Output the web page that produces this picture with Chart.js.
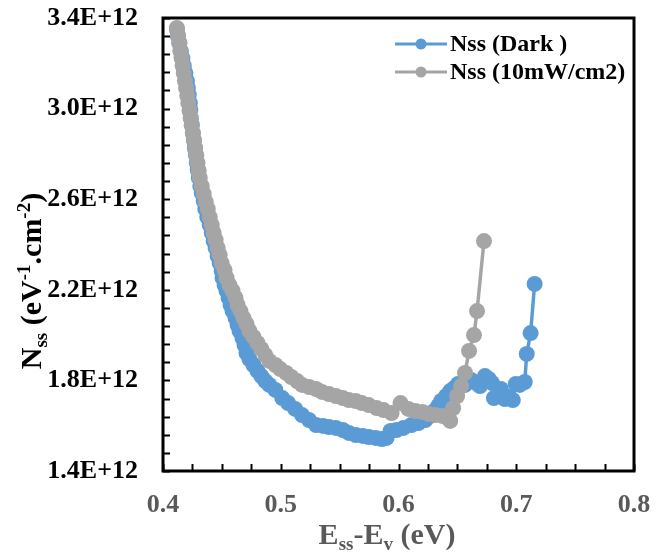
<!DOCTYPE html>
<html>
<head>
<meta charset="utf-8">
<script src="https://cdn.jsdelivr.net/npm/chart.js@4.4.1/dist/chart.umd.min.js"></script>
<style>
  html, body { margin: 0; padding: 0; background: #fff; }
  canvas { display: block; }
</style>
</head>
<body>
<canvas id="nssChart" width="667" height="557"></canvas>
<script>
// Ess-Ev (eV) and Nss (in units of 1E+12 eV-1.cm-2)
const darkX = [0.4118, 0.4127, 0.4139, 0.4152, 0.4165, 0.4177, 0.4190, 0.4203, 0.4211, 0.4219,
  0.4228, 0.4232, 0.4236, 0.4245, 0.4253, 0.4262, 0.4270, 0.4279, 0.4287, 0.4295,
  0.4304, 0.4317, 0.4329, 0.4346, 0.4359, 0.4376, 0.4397, 0.4414, 0.4430, 0.4447,
  0.4464, 0.4481, 0.4498, 0.4506, 0.4523, 0.4540, 0.4557, 0.4574, 0.4591, 0.4616,
  0.4633, 0.4650, 0.4675, 0.4692, 0.4709, 0.4734, 0.4768, 0.4802, 0.4835, 0.4869,
  0.4903, 0.4954, 0.5013, 0.5063, 0.5122, 0.5181, 0.5241, 0.5300, 0.5359, 0.5409,
  0.5468, 0.5527, 0.5578, 0.5637, 0.5696, 0.5747, 0.5806, 0.5857, 0.5899, 0.5933,
  0.5983, 0.6042, 0.6110, 0.6169, 0.6228, 0.6270, 0.6304, 0.6338, 0.6363, 0.6405,
  0.6439, 0.6473, 0.6506, 0.6565, 0.6616, 0.6658, 0.6692, 0.6734, 0.6768, 0.6793,
  0.6810, 0.6844, 0.6869, 0.6903, 0.6937, 0.6971, 0.6996, 0.7030, 0.7072, 0.7089,
  0.7122, 0.7156];
const darkY = [3.351, 3.321, 3.290, 3.254, 3.223, 3.188, 3.157, 3.122, 3.091, 3.060,
  3.025, 2.994, 2.958, 2.928, 2.892, 2.861, 2.826, 2.795, 2.760, 2.729,
  2.694, 2.658, 2.627, 2.592, 2.557, 2.521, 2.486, 2.451, 2.415, 2.385,
  2.349, 2.318, 2.283, 2.252, 2.221, 2.195, 2.164, 2.133, 2.106, 2.075,
  2.045, 2.018, 1.987, 1.956, 1.921, 1.894, 1.868, 1.842, 1.819, 1.797,
  1.780, 1.758, 1.722, 1.700, 1.674, 1.647, 1.625, 1.603, 1.599, 1.594,
  1.590, 1.581, 1.568, 1.559, 1.555, 1.550, 1.546, 1.541, 1.546, 1.577,
  1.581, 1.590, 1.603, 1.612, 1.625, 1.643, 1.665, 1.687, 1.709, 1.731,
  1.753, 1.766, 1.784, 1.780, 1.802, 1.789, 1.775, 1.819, 1.806, 1.789,
  1.722, 1.740, 1.762, 1.718, 1.727, 1.713, 1.784, 1.780, 1.793, 1.917,
  2.009, 2.226];

const lightX = [0.4118, 0.4128, 0.4138, 0.4147, 0.4157, 0.4167, 0.4176, 0.4186, 0.4196, 0.4206,
  0.4215, 0.4225, 0.4235, 0.4244, 0.4254, 0.4264, 0.4273, 0.4283, 0.4293, 0.4303,
  0.4312, 0.4329, 0.4346, 0.4363, 0.4380, 0.4397, 0.4414, 0.4430, 0.4447, 0.4464,
  0.4481, 0.4498, 0.4523, 0.4540, 0.4565, 0.4591, 0.4616, 0.4633, 0.4658, 0.4684,
  0.4709, 0.4734, 0.4768, 0.4802, 0.4835, 0.4869, 0.4903, 0.4954, 0.4996, 0.5046,
  0.5089, 0.5139, 0.5181, 0.5241, 0.5300, 0.5350, 0.5409, 0.5468, 0.5527, 0.5578,
  0.5637, 0.5688, 0.5747, 0.5814, 0.5873, 0.5941, 0.6017, 0.6084, 0.6143, 0.6203,
  0.6253, 0.6312, 0.6371, 0.6422, 0.6439, 0.6464, 0.6498, 0.6532, 0.6565, 0.6599,
  0.6641, 0.6667, 0.6726];
const lightY = [3.356, 3.323, 3.290, 3.257, 3.224, 3.190, 3.157, 3.124, 3.091, 3.058,
  3.025, 2.992, 2.959, 2.926, 2.893, 2.860, 2.826, 2.793, 2.760, 2.727,
  2.694, 2.658, 2.623, 2.588, 2.557, 2.521, 2.486, 2.451, 2.420, 2.385,
  2.354, 2.318, 2.287, 2.252, 2.221, 2.195, 2.164, 2.133, 2.106, 2.075,
  2.049, 2.018, 1.992, 1.965, 1.939, 1.912, 1.886, 1.868, 1.850, 1.833,
  1.815, 1.797, 1.780, 1.771, 1.762, 1.749, 1.740, 1.731, 1.722, 1.713,
  1.709, 1.700, 1.691, 1.678, 1.669, 1.656, 1.700, 1.674, 1.665, 1.661,
  1.652, 1.647, 1.643, 1.634, 1.621, 1.678, 1.731, 1.775, 1.833, 1.930,
  2.000, 2.106, 2.415];

const xTicks = [0.4, 0.5, 0.6, 0.7, 0.8];
const yTicks = [1.4, 1.8, 2.2, 2.6, 3.0, 3.4];
const seriesNames = ['Nss (Dark )', 'Nss (10mW/cm2)'];
const seriesColors = ['#5B9BD5', '#A5A5A5'];

const serif = '"Liberation Serif", "Times New Roman", serif';

function toPoints(xs, ys) {
  return xs.map((x, i) => ({ x: x, y: ys[i] }));
}

// text with sub/superscripts, centred on cx
function drawRich(ctx, parts, size, cx, baseY) {
  const fontOf = p => 'bold ' + (p.s ? Math.round(size * 0.62) : size) + 'px ' + serif;
  let w = 0;
  parts.forEach(p => { ctx.font = fontOf(p); w += ctx.measureText(p.t).width; });
  let x = cx - w / 2;
  ctx.textAlign = 'left';
  ctx.textBaseline = 'alphabetic';
  parts.forEach(p => {
    ctx.font = fontOf(p);
    const dy = p.s === 'sub' ? size * 0.2 : p.s === 'sup' ? -size * 0.36 : 0;
    ctx.fillText(p.t, x, baseY + dy);
    x += ctx.measureText(p.t).width;
  });
}

const framePlugin = {
  id: 'frame',
  afterDraw(chart) {
    const { ctx, chartArea: a, scales } = chart;
    ctx.save();

    // minor ticks, pointing inward
    ctx.strokeStyle = '#000';
    ctx.lineWidth = 2;
    ctx.beginPath();
    for (let i = 0; i <= 25; i++) {
      const py = Math.round(scales.y.getPixelForValue(1.4 + i * 0.08)) + 0.5;
      ctx.moveTo(a.left, py);
      ctx.lineTo(a.left + 7, py);
    }
    for (let i = 0; i <= 16; i++) {
      const px = Math.round(scales.x.getPixelForValue(0.4 + i * 0.025)) + 0.5;
      ctx.moveTo(px, a.bottom);
      ctx.lineTo(px, a.bottom - 7);
    }
    ctx.stroke();

    // plot box
    ctx.lineWidth = 3;
    ctx.strokeRect(a.left, a.top, a.right - a.left, a.bottom - a.top);

    // legend
    seriesNames.forEach((name, i) => {
      const ly = 44 + i * 28;
      ctx.strokeStyle = seriesColors[i];
      ctx.lineWidth = 3;
      ctx.beginPath();
      ctx.moveTo(395, ly);
      ctx.lineTo(447, ly);
      ctx.stroke();
      ctx.fillStyle = seriesColors[i];
      ctx.beginPath();
      ctx.arc(421, ly, 5.5, 0, Math.PI * 2);
      ctx.fill();
      ctx.fillStyle = '#000';
      ctx.font = 'bold 24px ' + serif;
      ctx.textAlign = 'left';
      ctx.textBaseline = 'middle';
      ctx.fillText(name, 450, ly + 1);
    });

    // x title
    ctx.fillStyle = '#595959';
    drawRich(ctx, [
      { t: 'E' }, { t: 'ss', s: 'sub' }, { t: '-E' }, { t: 'v', s: 'sub' }, { t: ' (eV)' }
    ], 30, 387, 544);

    // y title
    ctx.fillStyle = '#000';
    ctx.translate(41, 281);
    ctx.rotate(-Math.PI / 2);
    drawRich(ctx, [
      { t: 'N' }, { t: 'ss', s: 'sub' }, { t: ' (eV' }, { t: '-1', s: 'sup' },
      { t: '.cm' }, { t: '-2', s: 'sup' }, { t: ')' }
    ], 30, 0, 0);
    ctx.restore();
  }
};

const tickFont = { family: serif, size: 26, weight: 'bold' };

const seriesStyle = {
  borderWidth: 3.5,
  pointRadius: 8,
  pointBorderWidth: 0,
  pointHoverRadius: 8,
  tension: 0
};

new Chart(document.getElementById('nssChart').getContext('2d'), {
  type: 'line',
  data: {
    datasets: [{
      ...seriesStyle,
      label: seriesNames[0],
      data: toPoints(darkX, darkY),
      borderColor: seriesColors[0],
      backgroundColor: seriesColors[0],
      order: 1
    }, {
      ...seriesStyle,
      label: seriesNames[1],
      data: toPoints(lightX, lightY),
      borderColor: seriesColors[1],
      backgroundColor: seriesColors[1],
      order: 0
    }]
  },
  options: {
    responsive: false,
    animation: false,
    devicePixelRatio: 1,
    layout: { padding: { top: 18, right: 33, bottom: 0, left: 0 } },
    plugins: {
      legend: { display: false },
      tooltip: { enabled: false }
    },
    scales: {
      x: {
        type: 'linear',
        min: 0.4,
        max: 0.8,
        afterBuildTicks: s => { s.ticks = xTicks.map(v => ({ value: v })); },
        afterFit: s => { s.height = 86; s.paddingLeft = 0; s.paddingRight = 0; },
        grid: { display: false, drawTicks: false },
        border: { display: false },
        ticks: {
          font: tickFont,
          color: '#595959',
          padding: 19,
          maxRotation: 0,
          callback: v => v.toFixed(1)
        }
      },
      y: {
        type: 'linear',
        min: 1.4,
        max: 3.4,
        afterBuildTicks: s => { s.ticks = yTicks.map(v => ({ value: v })); },
        afterFit: s => { s.width = 163; s.paddingTop = 0; s.paddingBottom = 0; },
        grid: { display: false, drawTicks: false },
        border: { display: false },
        ticks: {
          font: tickFont,
          color: '#000',
          padding: 25,
          callback: v => v.toFixed(1) + 'E+12'
        }
      }
    }
  },
  plugins: [framePlugin]
});
</script>
</body>
</html>
